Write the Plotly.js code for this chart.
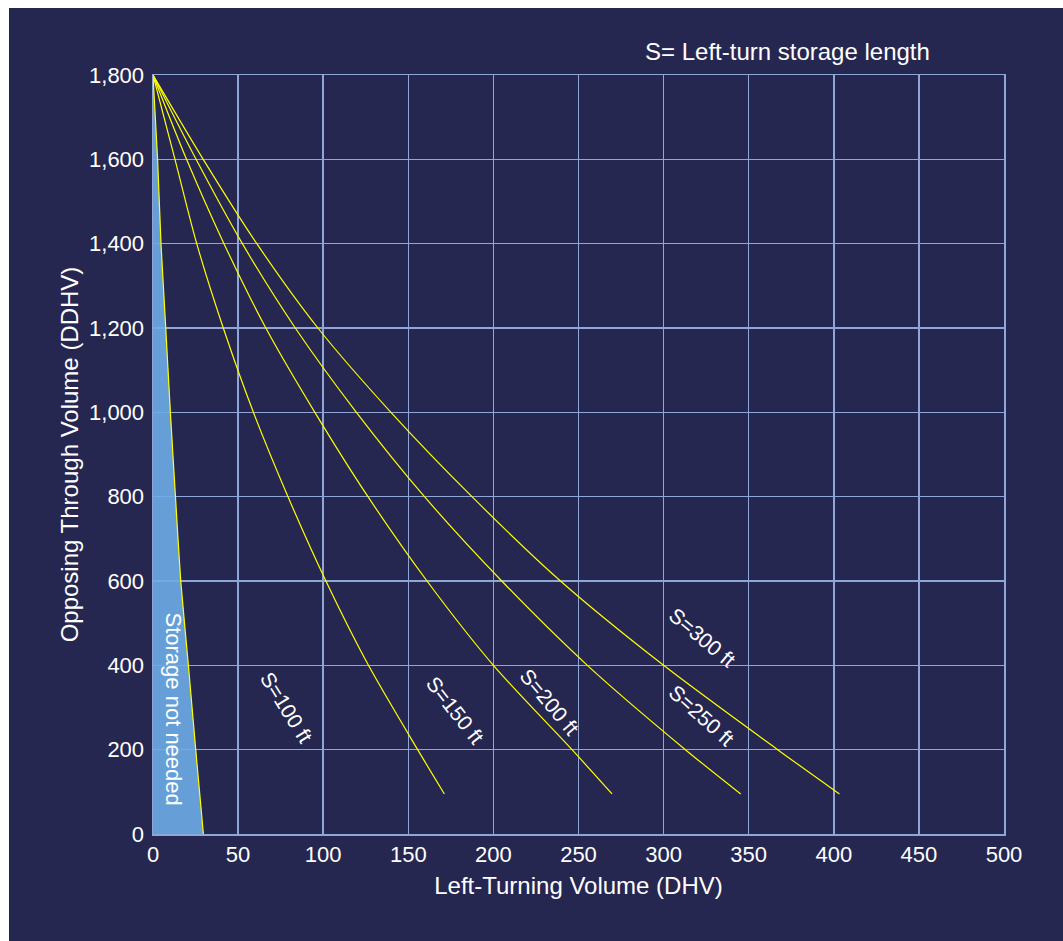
<!DOCTYPE html>
<html>
<head>
<meta charset="utf-8">
<script src="https://cdn.plot.ly/plotly-3.0.1.min.js"></script>
<style>
  html, body { margin: 0; padding: 0; background: #ffffff; width: 1063px; height: 941px; overflow: hidden; }
  #chart { position: absolute; left: 9px; top: 8px; width: 1054px; height: 933px; }
</style>
</head>
<body>
<div id="chart"></div>
<script>
// Opposing through volume (y) levels at which the curves were read
const opposingVolume = [1800, 1600, 1400, 1200, 1000, 800, 600, 400, 200, 95];
// Left-turning volume (x) for each storage length curve
const curveS100 = [0, 12.9, 25.7, 41.3, 59.0, 79.3, 101.6, 126.6, 155.5, 171.2];
const curveS150 = [0, 19.7, 41.7, 66.3, 95.1, 126.3, 161.0, 200.0, 246.2, 269.7];
const curveS200 = [0, 25.3, 52.5, 83.6, 119.5, 159.5, 204.9, 255.2, 312.8, 345.3];
const curveS250 = [0, 29.5, 61.0, 96.9, 139.8, 187.4, 239.4, 300.0, 367.0, 403.3];

// "Storage not needed" boundary
const boundaryY = [1800, 1600, 1400, 1200, 1000, 800, 600, 400, 200, 0];
const boundaryX = [0, 2.7, 4.7, 7.5, 10.2, 13.2, 16.3, 20.8, 25.1, 29.6];

// Curve labels
const labelText = ["S=100 ft", "S=150 ft", "S=200 ft", "S=250 ft", "S=300 ft"];
const labelX = [78.5, 177.8, 232.7, 322.4, 322.8];
const labelY = [300, 294, 313.7, 280.5, 466.5];
const labelAngle = [58, 52, 50, 42, 40];

const xTicks = [0, 50, 100, 150, 200, 250, 300, 350, 400, 450, 500];
const yTicks = [0, 200, 400, 600, 800, 1000, 1200, 1400, 1600, 1800];

const NAVY = '#262751';
const GRID = '#8ea7d6';
const YELLOW = '#ffff00';
const FONT = 'Liberation Sans, Arial, Helvetica, sans-serif';

const traces = [];
// filled region
traces.push({
  x: [0].concat(boundaryX),
  y: [0].concat(boundaryY),
  mode: 'lines',
  fill: 'toself',
  fillcolor: 'rgba(110,173,229,0.9)',
  line: { width: 0, color: 'rgba(0,0,0,0)' },
  hoverinfo: 'skip',
  showlegend: false
});
// boundary line
traces.push({
  x: boundaryX, y: boundaryY, mode: 'lines',
  line: { color: YELLOW, width: 1.2, shape: 'spline', smoothing: 0.6 },
  showlegend: false
});
[curveS100, curveS150, curveS200, curveS250].forEach(cx => {
  traces.push({
    x: cx, y: opposingVolume, mode: 'lines',
    line: { color: YELLOW, width: 1.2, shape: 'spline', smoothing: 0.8 },
    showlegend: false
  });
});

const annotations = labelText.map((t, i) => ({
  x: labelX[i], y: labelY[i], xref: 'x', yref: 'y',
  text: t, showarrow: false, textangle: labelAngle[i],
  font: { family: FONT, size: 21, color: '#ffffff' }
}));
annotations.push({
  x: 11.9, y: 297, xref: 'x', yref: 'y',
  text: 'Storage not needed', showarrow: false, textangle: 90,
  font: { family: FONT, size: 22, color: '#ffffff' }
});
annotations.push({
  x: 1.0, xref: 'paper', xanchor: 'right', xshift: -72,
  y: 1.0316, yref: 'paper', yanchor: 'middle',
  text: 'S= Left-turn storage length', showarrow: false,
  font: { family: FONT, size: 24, color: '#ffffff' }
});

const axisCommon = {
  showgrid: true, gridcolor: GRID, gridwidth: 1.5,
  showline: true, linecolor: GRID, linewidth: 1.5, mirror: true,
  zeroline: false,
  tickfont: { family: FONT, size: 22, color: '#ffffff' },
  fixedrange: true
};

const layout = {
  width: 1054, height: 933,
  paper_bgcolor: NAVY, plot_bgcolor: NAVY,
  margin: { l: 144, r: 59, t: 67, b: 107 },
  showlegend: false,
  xaxis: Object.assign({}, axisCommon, {
    range: [0, 500], tickvals: xTicks, ticktext: xTicks.map(String),
    ticks: '',
    title: { text: 'Left-Turning Volume (DHV)', font: { family: FONT, size: 24, color: '#ffffff' }, standoff: 11 },
    automargin: false
  }),
  yaxis: Object.assign({}, axisCommon, {
    range: [0, 1800], tickvals: yTicks, ticktext: yTicks.map(v => v.toLocaleString('en-US')),
    ticks: 'outside', ticklen: 3, tickcolor: 'rgba(0,0,0,0)',
    title: { text: 'Opposing Through Volume (DDHV)', font: { family: FONT, size: 24, color: '#ffffff' }, standoff: 3 },
    automargin: false
  }),
  annotations: annotations
};

Plotly.newPlot('chart', traces, layout, { displayModeBar: false, staticPlot: true });
</script>
</body>
</html>
